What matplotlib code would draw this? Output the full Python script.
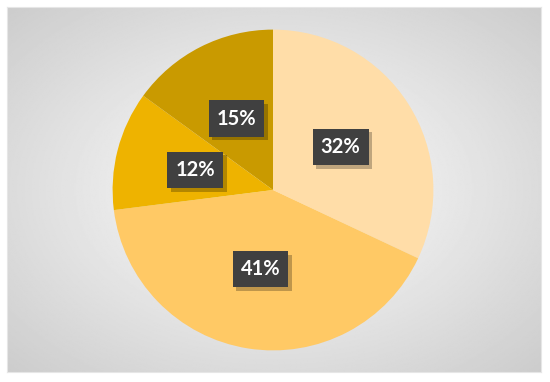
import numpy as np
import matplotlib.pyplot as plt
import matplotlib.patheffects as pe

shares = [32, 41, 12, 15]
colors = ['#FFDDA8', '#FFC965', '#EEB300', '#C99A00']

fig = plt.figure(figsize=(5.5, 3.82), dpi=100)
fig.patch.set_facecolor('white')

# grey panel with a radial gradient
bg = fig.add_axes([7 / 550, 10 / 382, 534 / 550, 365 / 382])
yy, xx = np.mgrid[-1:1:300j, -1:1:440j]
r = np.sqrt(xx ** 2 + yy ** 2) / np.sqrt(2)
bg.imshow(1 - 0.2 * r, cmap='gray', vmin=0, vmax=1, aspect='auto',
          extent=[0, 1, 0, 1])
bg.set_xticks([])
bg.set_yticks([])
for s in bg.spines.values():
    s.set_color('#E6E6E6')

ax = fig.add_axes([(273 - 162) / 550, (382 - 190 - 162) / 382, 324 / 550, 324 / 382])
wedges, texts, autotexts = ax.pie(shares, colors=colors, startangle=90,
                                  counterclock=False, autopct='%d%%',
                                  pctdistance=0.5, radius=1,
                                  wedgeprops=dict(linewidth=0))
ax.set_xlim(-1.01, 1.01)
ax.set_ylim(-1.01, 1.01)
ax.set_aspect('equal')

for t in autotexts:
    t.set_color('white')
    t.set_fontsize(14.5)
    t.set_fontweight('bold')
    t.set_fontfamily('Lato')
    t.set_bbox(dict(boxstyle='square,pad=0.4', facecolor='#404040',
                    edgecolor='none'))
    t.get_bbox_patch().set_path_effects([
        pe.SimplePatchShadow(offset=(2.5, -2.5), shadow_rgbFace='black', alpha=0.25),
        pe.Normal()])

fig.savefig('out.png', dpi=100)
